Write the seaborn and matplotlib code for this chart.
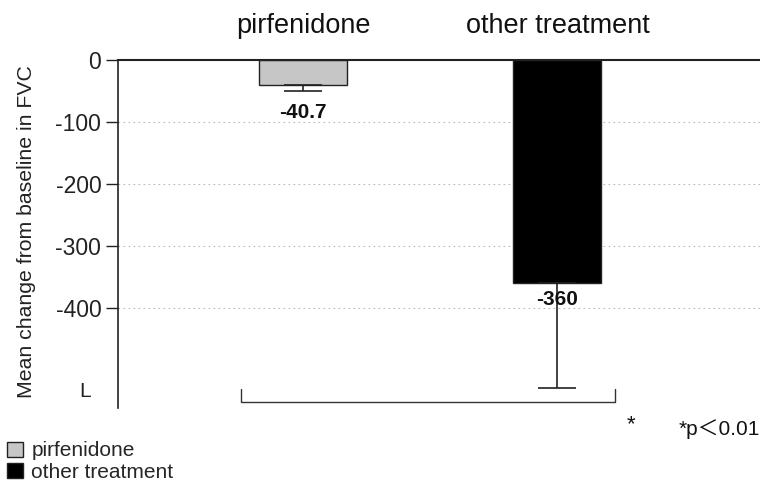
import matplotlib
matplotlib.use("Agg")
import matplotlib.pyplot as plt
import matplotlib.patches as mpatches
import seaborn as sns
import pandas as pd

# FVC change data
groups = ["pirfenidone", "other treatment"]
mean_change = [-40.7, -360.0]
err_lower = [10.0, 169.0]
bar_colors = ["#c6c6c6", "#000000"]
yticks = [0, -100, -200, -300, -400]

sns.set_theme(style="white")
plt.rcParams["font.family"] = ["Liberation Sans", "DejaVu Sans", "Noto Sans CJK JP"]

df = pd.DataFrame({"group": groups, "change": mean_change})

fig = plt.figure(figsize=(7.6, 4.83), dpi=100)
ax = fig.add_axes([118 / 760, 1 - 408 / 483, 642 / 760, 348 / 483])

sns.barplot(data=df, x="group", y="change", hue="group", palette=bar_colors,
            order=groups, width=0.346, edgecolor="#222222", linewidth=1.0,
            errorbar=None, legend=False, ax=ax)

# one-sided (downward) error bars
for i, (m, e) in enumerate(zip(mean_change, err_lower)):
    ax.errorbar(i, m, yerr=[[e], [0]], fmt="none", ecolor="#222222",
                elinewidth=1.2, capsize=14, capthick=1.2, zorder=3)

# value labels
ax.text(0, -85, "-40.7", ha="center", va="center",
        fontsize=15, fontweight="bold", color="#111111")
ax.text(1, -387, "-360", ha="center", va="center",
        fontsize=15, fontweight="bold", color="#111111", zorder=4)

ax.set_xlim(-0.727, 1.796)
ax.set_ylim(-562, 0)
ax.set_yticks(yticks)
ax.set_yticklabels([str(v) for v in yticks], fontsize=16.5)
ax.tick_params(axis="y", length=9, width=1.0, color="#222222", pad=3,
               left=True, labelcolor="#222222")

# group names on top
ax.xaxis.tick_top()
ax.set_xticks(range(len(groups)))
ax.set_xticklabels(groups, fontsize=19.5)
ax.tick_params(axis="x", length=0, pad=15, labelcolor="#111111")
ax.set_xlabel("")
ax.set_ylabel("Mean change from baseline in FVC", fontsize=15.3,
              color="#222222")
ax.yaxis.set_label_coords(-0.128, 0.506)

# dotted reference lines
for v in yticks[1:]:
    ax.axhline(v, color="#bbbbbb", linestyle=(0, (1.5, 3)), linewidth=0.8, zorder=0)

for side in ["right", "bottom"]:
    ax.spines[side].set_visible(False)
ax.spines["left"].set_color("#222222")
ax.spines["left"].set_linewidth(1.2)
ax.spines["top"].set_color("#222222")
ax.spines["top"].set_linewidth(1.5)

ax.text(-0.855, -535, "L", ha="center", va="center", fontsize=15,
        color="#222222", clip_on=False)

# significance bracket
bx0, bx1, by, bh = -0.244, 1.226, -553, 21
ax.plot([bx0, bx0, bx1, bx1], [by + bh, by, by, by + bh], color="#333333",
        linewidth=1.0, clip_on=False)

fig.text(631 / 760, 1 - 425 / 483, "*", ha="center", va="center",
         fontsize=16, color="#111111")
fig.text(719 / 760, 1 - 429 / 483, "*p\uff1c0.01", ha="center", va="center",
         fontsize=15, color="#111111")

# legend
handles = [mpatches.Patch(facecolor=c, edgecolor="#222222", label=g)
           for g, c in zip(groups, bar_colors)]
fig.legend(handles=handles, loc="lower left", bbox_to_anchor=(0.0, -0.012),
           frameon=False, fontsize=15, handlelength=0.75, handleheight=0.75,
           handletextpad=0.4, labelspacing=0.1, borderpad=0.2,
           borderaxespad=0.15)

fig.savefig("out.png", dpi=100, facecolor="white")
